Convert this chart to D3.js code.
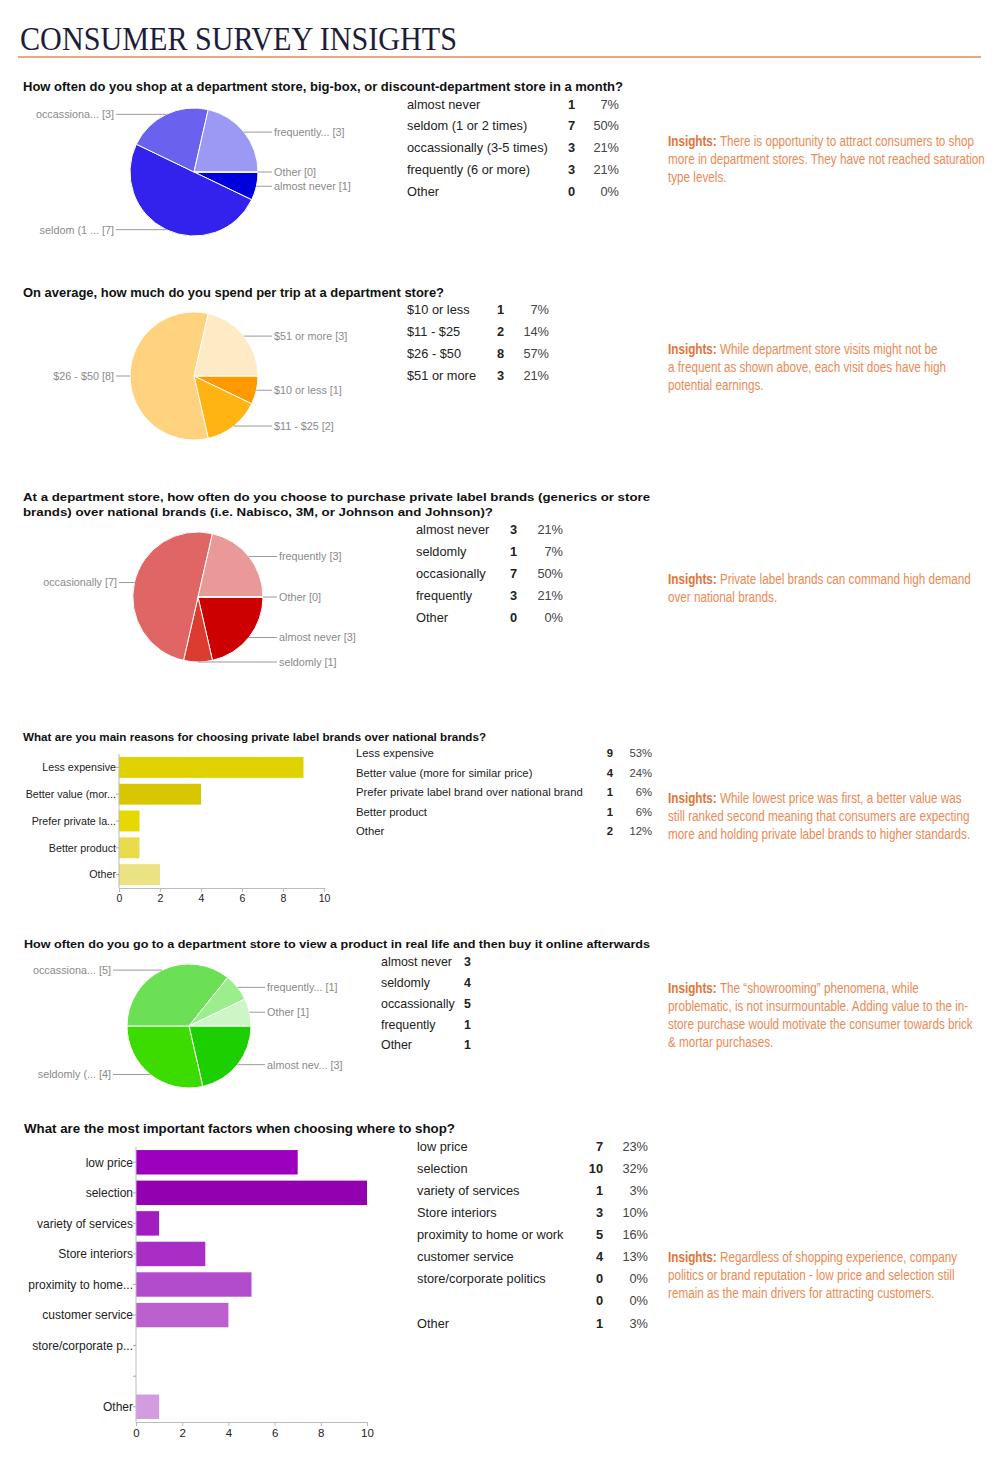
<!DOCTYPE html>
<html><head><meta charset="utf-8">
<script src="https://cdn.jsdelivr.net/npm/d3@7"></script>
<style>body{margin:0;background:#fff}</style>
</head><body><svg id="c" width="1000" height="1463"></svg>
<script>
// ---------------- DATA ----------------
const q1Title = ["How often do you shop at a department store, big-box, or discount-department store in a month?"];
const q1Categories = ["almost never","seldom (1 or 2 times)","occassionally (3-5 times)","frequently (6 or more)","Other"];
const q1Values = [1,7,3,3,0];
const q1PieLabels = ["almost never","seldom (1 ...","occassiona...","frequently...","Other"];

const q2Title = ["On average, how much do you spend per trip at a department store?"];
const q2Categories = ["$10 or less","$11 - $25","$26 - $50","$51 or more"];
const q2Values = [1,2,8,3];
const q2PieLabels = ["$10 or less","$11 - $25","$26 - $50","$51 or more"];

const q3Title = ["At a department store, how often do you choose to purchase private label brands (generics or store","brands) over national brands (i.e. Nabisco, 3M, or Johnson and Johnson)?"];
const q3Categories = ["almost never","seldomly","occasionally","frequently","Other"];
const q3Values = [3,1,7,3,0];
const q3PieLabels = ["almost never","seldomly","occasionally","frequently","Other"];

const q4Title = ["What are you main reasons for choosing private label brands over national brands?"];
const q4Categories = ["Less expensive","Better value (more for similar price)","Prefer private label brand over national brand","Better product","Other"];
const q4Values = [9,4,1,1,2];
const q4AxisLabels = ["Less expensive","Better value (mor...","Prefer private la...","Better product","Other"];

const q5Title = ["How often do you go to a department store to view a product in real life and then buy it online afterwards"];
const q5Categories = ["almost never","seldomly","occassionally","frequently","Other"];
const q5Values = [3,4,5,1,1];
const q5PieLabels = ["almost nev...","seldomly (...","occassiona...","frequently...","Other"];

const q6Title = ["What are the most important factors when choosing where to shop?"];
const q6Categories = ["low price","selection","variety of services","Store interiors","proximity to home or work","customer service","store/corporate politics","","Other"];
const q6Values = [7,10,1,3,5,4,0,0,1];
const q6AxisLabels = ["low price","selection","variety of services","Store interiors","proximity to home...","customer service","store/corporate p...","","Other"];

const xTicks = [0,2,4,6,8,10];

const insights1 = ["There is opportunity to attract consumers to shop","more in department stores. They have not reached saturation","type levels."];
const insights2 = ["While department store visits might not be","a frequent as shown above, each visit does have high","potential earnings."];
const insights3 = ["Private label brands can command high demand","over national brands."];
const insights4 = ["While lowest price was first, a better value was","still ranked second meaning that consumers are expecting","more and holding private label brands to higher standards."];
const insights5 = [" The \u201cshowrooming\u201d phenomena, while","problematic, is not insurmountable. Adding value to the in-","store purchase would motivate the consumer towards brick","& mortar purchases."];
const insights6 = ["Regardless of shopping experience, company","politics or brand reputation - low price and selection still","remain as the main drivers for attracting customers."];

// ---------------- STYLES ----------------
const q1Colors = ["#0000dd","#3322ee","#6a62ee","#9c99f5","#c8c6fa"];
const q2Colors = ["#ff9900","#ffb414","#ffd27f","#ffeac6"];
const q3Colors = ["#cc0000","#dc3b30","#e06666","#ea9999","#f4cccc"];
const q4Colors = ["#e0d200","#d8c600","#e6d800","#e8dc4c","#ece183"];
const q5Colors = ["#1ccf00","#3cdc00","#6ce055","#9aee8c","#ccf6c6"];
const q6Colors = ["#9c00be","#9200b0","#a21cc2","#a92ec6","#b34ccc","#bc60d0","#c57ad6","#c57ad6","#d49be0"];

const SANS = "'Liberation Sans', Arial, Helvetica, sans-serif";
const svg = d3.select("#c");
svg.append("rect").attr("width",1000).attr("height",1463).attr("fill","#fff");

// header
svg.append("text").attr("x",20).attr("y",50)
  .attr("font-family","'Liberation Serif','DejaVu Serif',serif").attr("font-size",33)
  .attr("fill","#1d1d38").attr("textLength",437).attr("lengthAdjust","spacingAndGlyphs")
  .text("CONSUMER SURVEY INSIGHTS");
svg.append("line").attr("x1",18).attr("x2",981).attr("y1",57).attr("y2",57)
  .attr("stroke","#df8a62").attr("stroke-width",1.3);

function qTitle(lines, x, y0, size, lengths){
  lines.forEach((t,i)=>{
    svg.append("text").attr("x",x).attr("y",y0+i*15).attr("font-family",SANS)
      .attr("font-weight","bold").attr("font-size",size).attr("fill","#111")
      .attr("textLength",lengths[i]).attr("lengthAdjust","spacingAndGlyphs").text(t);
  });
}

function drawPie(cfg, values, labels, colors){
  const g = svg.append("g");
  const pie = d3.pie().sort(null).startAngle(Math.PI/2).endAngle(Math.PI/2+2*Math.PI);
  const arcs = pie(values);
  const arc = d3.arc().innerRadius(0).outerRadius(cfg.r);
  g.selectAll("path.s").data(arcs).join("path").attr("class","s")
    .attr("transform",`translate(${cfg.cx},${cfg.cy})`)
    .attr("d",arc).attr("fill",(d,i)=>colors[i]).attr("stroke","#fff").attr("stroke-width",1);
  const items = arcs.map((d,i)=>{
    const a = (d.startAngle+d.endAngle)/2;
    const ax = cfg.cx + cfg.r*Math.sin(a), ay = cfg.cy - cfg.r*Math.cos(a);
    const right = Math.sin(a) > -1e-6;
    return {ax, ay, right, y: ay, text: `${labels[i]} [${values[i]}]`};
  });
  [true,false].forEach(side=>{
    const s = items.filter(d=>d.right===side).sort((a,b)=>a.y-b.y);
    for(let k=1;k<s.length;k++){ if(s[k].y - s[k-1].y < 13) s[k].y = s[k-1].y + 13; }
  });
  items.forEach(d=>{
    const dir = d.right?1:-1;
    const lx = cfg.cx + dir*(cfg.r+16);
    const ex = d.ax + dir*4;
    g.append("path").attr("d",`M${d.ax},${d.ay}L${ex},${d.y}L${lx-dir*2},${d.y}`)
      .attr("fill","none").attr("stroke","#999").attr("stroke-width",1);
    g.append("text").attr("x",lx).attr("y",d.y+3.9).attr("text-anchor",d.right?"start":"end")
      .attr("font-family",SANS).attr("font-size",10.8).attr("fill","#8a8a8a").text(d.text);
  });
}

function drawTable(cfg, cats, values, showPct){
  const total = d3.sum(values);
  const g = svg.append("g").attr("font-family",SANS).attr("font-size",cfg.fs).attr("fill","#222");
  cats.forEach((c,i)=>{
    const y = cfg.y0 + i*cfg.dy + cfg.fs*0.36;
    g.append("text").attr("x",cfg.x).attr("y",y).text(c);
    g.append("text").attr("x",cfg.cx).attr("y",y).attr("text-anchor","end").attr("font-weight","bold").text(values[i]);
    if(showPct) g.append("text").attr("x",cfg.px).attr("y",y).attr("text-anchor","end").attr("fill","#444")
      .text(Math.round(values[i]/total*100)+"%");
  });
}

function drawBar(cfg, labels, values, colors){
  const g = svg.append("g");
  const x = d3.scaleLinear().domain([0,10]).range([cfg.x0, cfg.x1]);
  const y = d3.scaleBand().domain(d3.range(values.length)).range([cfg.y0, cfg.y1]).paddingInner(cfg.pad).paddingOuter(cfg.pad/2);
  g.selectAll("rect.b").data(values).join("rect").attr("class","b")
    .attr("x",x(0)).attr("y",(d,i)=>y(i)).attr("width",d=>x(d)-x(0)).attr("height",y.bandwidth())
    .attr("fill",(d,i)=>colors[i]);
  g.append("line").attr("x1",x(0)).attr("x2",x(0)).attr("y1",cfg.y0).attr("y2",cfg.y1).attr("stroke","#bbb");
  labels.forEach((t,i)=>{
    const cy = y(i)+y.bandwidth()/2;
    g.append("line").attr("x1",x(0)-3).attr("x2",x(0)).attr("y1",cy).attr("y2",cy).attr("stroke","#aaa");
    g.append("text").attr("x",x(0)-3).attr("y",cy+cfg.fs*0.36).attr("text-anchor","end")
      .attr("font-family",SANS).attr("font-size",cfg.fs).attr("fill","#222").text(t);
  });
  const ax = g.append("g").attr("transform",`translate(0,${cfg.y1})`)
    .call(d3.axisBottom(x).tickValues(xTicks).tickSize(4).tickPadding(3));
  ax.select(".domain").attr("stroke","#bbb");
  ax.selectAll(".tick line").attr("stroke","#bbb");
  ax.selectAll(".tick text").attr("font-family",SANS).attr("font-size",cfg.tfs).attr("fill","#222");
}

function drawInsights(lines, x, y0){
  const g = svg.append("g").attr("transform",`translate(${x},0) scale(0.78,1)`);
  lines.forEach((t,i)=>{
    const tx = g.append("text").attr("x",0).attr("y",y0+i*18+5.5)
      .attr("font-family",SANS).attr("font-size",15).attr("fill","#ea8a55");
    if(i===0) tx.append("tspan").attr("font-weight","bold").attr("fill","#e0743a").text("Insights: ");
    tx.append("tspan").text(t);
  });
}

// Section 1
qTitle(q1Title, 23, 91, 12, [600]);
drawPie({cx:194, cy:172, r:64}, q1Values, q1PieLabels, q1Colors);
drawTable({x:407, cx:575, px:619, y0:104, dy:21.75, fs:12.8}, q1Categories, q1Values, true);
drawInsights(insights1, 668, 141);

// Section 2
qTitle(q2Title, 23, 297, 12, [421]);
drawPie({cx:194, cy:376, r:64}, q2Values, q2PieLabels, q2Colors);
drawTable({x:407, cx:504, px:549, y0:309, dy:22, fs:12.8}, q2Categories, q2Values, true);
drawInsights(insights2, 668, 349);

// Section 3
qTitle(q3Title, 23, 501, 11.8, [627,470]);
drawPie({cx:198, cy:597, r:65}, q3Values, q3PieLabels, q3Colors);
drawTable({x:416, cx:517, px:563, y0:529, dy:22, fs:12.8}, q3Categories, q3Values, true);
drawInsights(insights3, 668, 579);

// Section 4
qTitle(q4Title, 23, 741, 11, [463]);
drawBar({x0:119, x1:324, y0:754, y1:888, pad:0.22, fs:10.7, tfs:10.5}, q4AxisLabels, q4Values, q4Colors);
drawTable({x:356, cx:613, px:652, y0:753, dy:19.5, fs:11.3}, q4Categories, q4Values, true);
drawInsights(insights4, 668, 798);

// Section 5
qTitle(q5Title, 24, 948, 11, [626]);
drawPie({cx:189, cy:1026, r:62}, q5Values, q5PieLabels, q5Colors);
drawTable({x:381, cx:471, px:0, y0:962, dy:20.75, fs:12.4}, q5Categories, q5Values, false);
drawInsights(insights5, 668, 988);

// Section 6
qTitle(q6Title, 24, 1133, 12.5, [431]);
drawBar({x0:136, x1:367, y0:1147, y1:1422, pad:0.2, fs:12, tfs:11.5}, q6AxisLabels, q6Values, q6Colors);
drawTable({x:417, cx:603, px:648, y0:1146, dy:22.125, fs:12.8}, q6Categories, q6Values, true);
drawInsights(insights6, 668, 1257);
</script></body></html>
